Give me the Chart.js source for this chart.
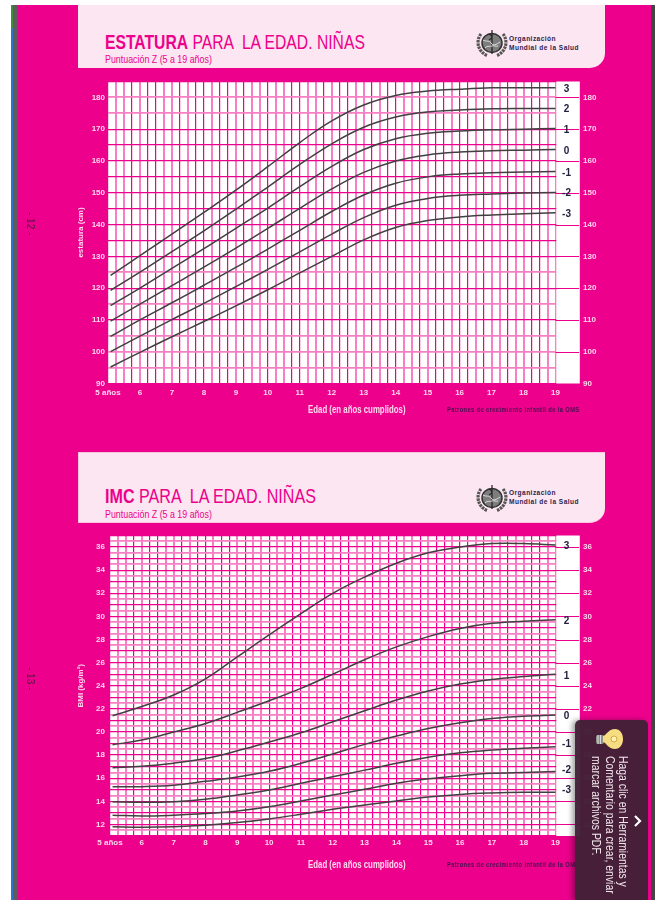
<!DOCTYPE html>
<html lang="es">
<head>
<meta charset="utf-8">
<title>Estatura e IMC para la edad. Niñas</title>
<script src="https://cdn.jsdelivr.net/npm/chart.js@4"></script>
<style>
html,body{margin:0;padding:0;background:#fff;width:662px;height:900px;overflow:hidden}
body{position:relative;font-family:"Liberation Sans",sans-serif}
.abs{position:absolute}
#page{left:17.5px;top:5px;width:633px;height:895px;background:#EC008C}
#stripG{left:11px;top:5px;width:2px;height:23px;background:#3f8f3a}
#stripB{left:11px;top:28px;width:2px;height:872px;background:#2f74c8}
#stripL{left:13px;top:5px;width:4.5px;height:895px;background:#5c5c5c}
#stripR{left:650.5px;top:5px;width:4.5px;height:895px;background:#444}
.panel{left:78px;width:527px;background:#FCE6F1;border-bottom-right-radius:15px;box-sizing:border-box}
#p1{top:5px;height:63px}
#p2{top:451.5px;height:71px;border:1px solid #F9C6E1;border-right:0}
.title{left:105px;font-size:20.6px;line-height:20px;color:#EC008C;white-space:pre;transform:scaleX(.762);transform-origin:0 0}
.sub{left:105px;font-size:10.6px;line-height:12px;color:#EC008C;white-space:pre;transform:scaleX(.836);transform-origin:0 0}
.who{left:509px;font-size:7.6px;line-height:9.2px;font-weight:bold;color:#2c2550;white-space:pre;letter-spacing:.55px;transform:scaleX(.86);transform-origin:0 0}
.xt{font-size:10.6px;line-height:12px;font-weight:bold;color:#FFD8EC;white-space:pre;left:308px;transform:scaleX(.74);transform-origin:0 0}
.pat{font-size:6.4px;line-height:8px;font-weight:bold;color:#4a1050;white-space:pre;left:447px;letter-spacing:.42px;transform:scaleX(.9);transform-origin:0 0}
.side{left:24px;font-size:10px;line-height:12px;color:#4a1a3a;writing-mode:vertical-rl;white-space:pre}
canvas{position:absolute;left:0}
#c1{top:70px}
#c2{top:525px}
#tip{left:575px;top:719.5px;width:73px;height:181px;background:rgba(64,32,54,.965);border-radius:5px 5px 0 0;box-shadow:-3px 0 5px rgba(0,0,0,.35)}
#tipT{left:589px;top:756px;height:172px;overflow:hidden;writing-mode:vertical-rl;font-size:12.4px;line-height:13.4px;color:#f1e6ec;white-space:pre;transform:scaleY(.84);transform-origin:0 0}
</style>
</head>
<body>
<div class="abs" id="page"></div>
<div class="abs" id="stripG"></div><div class="abs" id="stripB"></div><div class="abs" id="stripL"></div><div class="abs" id="stripR"></div>

<div class="abs panel" id="p1"></div>
<div class="abs panel" id="p2"></div>

<div class="abs title" style="top:32px"><b>ESTATURA</b> PARA  LA EDAD. NIÑAS</div>
<div class="abs sub" style="top:53px">Puntuación Z (5 a 19 años)</div>
<div class="abs title" style="top:486px;transform:scaleX(.782)"><b>IMC</b> PARA  LA EDAD. NIÑAS</div>
<div class="abs sub" style="top:508px">Puntuación Z (5 a 19 años)</div>

<svg class="abs" style="left:476px;top:29px" width="32" height="28" viewBox="0 0 32 28"><g fill="none" stroke="#666" stroke-width="1.5"><ellipse cx="16" cy="14" rx="10" ry="9.500" fill="#7d7d7d" stroke="#333"/><path d="M5 5C0 11 1 22 11 26.500M27 5c5 6 4 17-6 21.500" stroke-width="3.200" stroke-dasharray="2.500 .8" stroke="#555"/><path d="M16 1v24M13 5c4 2 4 4 0 6" stroke="#222" stroke-width="1.200"/><path d="M7 11c3 2 6 0 8 3s5 2 9-1M9 19c3-3 5-1 7-2s4 1 6 0" stroke="#e0e0e0" stroke-width="1"/></g></svg>
<svg class="abs" style="left:476px;top:483.5px" width="32" height="28" viewBox="0 0 32 28"><g fill="none" stroke="#666" stroke-width="1.5"><ellipse cx="16" cy="14" rx="10" ry="9.500" fill="#7d7d7d" stroke="#333"/><path d="M5 5C0 11 1 22 11 26.500M27 5c5 6 4 17-6 21.500" stroke-width="3.200" stroke-dasharray="2.500 .8" stroke="#555"/><path d="M16 1v24M13 5c4 2 4 4 0 6" stroke="#222" stroke-width="1.200"/><path d="M7 11c3 2 6 0 8 3s5 2 9-1M9 19c3-3 5-1 7-2s4 1 6 0" stroke="#e0e0e0" stroke-width="1"/></g></svg>
<div class="abs who" style="top:33.5px">Organización
Mundial de la Salud</div>
<div class="abs who" style="top:488px">Organización
Mundial de la Salud</div>

<canvas id="c1" width="662" height="350"></canvas>
<canvas id="c2" width="662" height="350"></canvas>

<div class="abs xt" style="top:403px">Edad (en años cumplidos)</div>
<div class="abs pat" style="top:406px">Patrones de crecimiento infantil de la OMS</div>
<div class="abs xt" style="top:858px">Edad (en años cumplidos)</div>
<div class="abs pat" style="top:861px">Patrones de crecimiento infantil de la OMS</div>
<div class="abs side" style="top:212px">- 12 -</div>
<div class="abs side" style="top:667px">- 13 -</div>

<div class="abs" id="tip"></div>
<svg class="abs" style="left:595px;top:727px" width="30" height="24" viewBox="0 0 30 24"><rect x="1" y="8" width="8" height="9" rx="2" fill="#8f8f88"/><path d="M3 8v9M5.500 8v9" stroke="#ddd" stroke-width="1"/><path d="M8 9C12 8 13 2 20 2c5 0 8 4.500 8 10s-3 10-8 10c-7 0-8-6-12-7z" fill="#F6DD82"/><circle cx="19" cy="12" r="3" fill="#fff3b8" stroke="#d9a93a"/></svg>
<svg class="abs" style="left:632px;top:814px" width="12" height="14" viewBox="0 0 12 14"><path d="M3 2l5 5-5 5" fill="none" stroke="#fff" stroke-width="2.200"/></svg>
<div class="abs" id="tipT">Haga clic en Herramientas y
Comentario para crear, enviar
marcar archivos PDF.</div>

<script>
// ---- shared categories ----
const ages = [5.08, 6, 7, 8, 9, 10, 11, 12, 13, 14, 15, 16, 17, 18, 19];
const zLabels = ['3', '2', '1', '0', '-1', '-2', '-3'];

// ---- estatura (cm) ----
const heightZ3  = [124.0, 130.2, 137.0, 143.8, 150.8, 158.2, 165.8, 172.6, 177.6, 180.6, 182.0, 182.6, 183.0, 183.0, 183.0];
const heightZ2  = [119.3, 125.0, 131.5, 138.0, 144.8, 151.8, 158.9, 165.4, 170.6, 173.8, 175.4, 176.0, 176.4, 176.5, 176.5];
const heightZ1  = [114.5, 120.0, 126.2, 132.4, 138.8, 145.2, 151.9, 158.3, 163.6, 167.0, 168.7, 169.4, 169.8, 170.0, 170.2];
const heightZ0  = [109.6, 115.0, 120.8, 126.6, 132.6, 138.8, 145.1, 151.2, 156.4, 160.0, 161.9, 162.8, 163.2, 163.4, 163.6];
const heightZm1 = [104.8, 110.0, 115.4, 120.9, 126.5, 132.3, 138.2, 144.1, 149.3, 153.0, 155.0, 155.9, 156.3, 156.5, 156.7];
const heightZm2 = [100.0, 104.9, 110.1, 115.2, 120.5, 125.9, 131.4, 137.0, 142.2, 146.1, 148.2, 149.2, 149.6, 149.9, 150.1];
const heightZm3 = [95.2, 99.8, 104.7, 109.5, 114.4, 119.5, 124.8, 130.0, 135.2, 139.1, 141.3, 142.4, 143.0, 143.4, 143.7];

// ---- IMC (kg/m2) ----
const bmiZ3  = [21.4, 22.2, 23.2, 24.6, 26.5, 28.4, 30.24, 32.0, 33.4, 34.6, 35.5, 36.0, 36.3, 36.3, 36.17];
const bmiZ2  = [18.9, 19.3, 20.0, 20.74, 21.7, 22.7, 23.77, 25.0, 26.25, 27.36, 28.25, 28.95, 29.4, 29.58, 29.7];
const bmiZ1  = [16.9, 17.03, 17.3, 17.7, 18.37, 19.13, 19.93, 20.88, 21.83, 22.76, 23.55, 24.15, 24.55, 24.8, 25.0];
const bmiZ0  = [15.27, 15.27, 15.39, 15.73, 16.1, 16.6, 17.29, 18.1, 18.93, 19.65, 20.3, 20.8, 21.17, 21.37, 21.46];
const bmiZm1 = [13.97, 13.92, 13.97, 14.18, 14.55, 14.98, 15.56, 16.13, 16.7, 17.29, 17.82, 18.2, 18.44, 18.6, 18.72];
const bmiZm2 = [12.8, 12.73, 12.8, 12.94, 13.17, 13.54, 14.03, 14.55, 15.04, 15.56, 15.95, 16.22, 16.42, 16.5, 16.57];
const bmiZm3 = [11.8, 11.76, 11.8, 11.93, 12.16, 12.48, 12.88, 13.31, 13.68, 14.03, 14.37, 14.6, 14.72, 14.78, 14.78];

const heightTitle = 'estatura (cm)';
const bmiTitle = 'BMI (kg/m²)';

// ---- style ----
const PINK = '#EC008C', PALE = '#F77FC3', TICK = '#FFD8EC', INK = '#222040';
const FAM = '"Liberation Sans",sans-serif';
const verticalPattern = 'DPPDPDDPPDPDDPDDPDPPDPPDDPPDPD';
const paleHeightLines = [180, 175, 125, 115, 105, 100, 95];

function toPoints(values) { return values.map((v, i) => ({ x: ages[i], y: v })); }

const guide = {
  id: 'guide',
  beforeDraw(chart) {
    const a = chart.chartArea, c = chart.ctx;
    c.save(); c.fillStyle = '#fff'; c.fillRect(a.left, a.top, a.right - a.left, a.bottom - a.top); c.restore();
  },
  beforeDatasetsDraw(chart, args, opts) {
    const a = chart.chartArea, c = chart.ctx, xs = chart.scales.x, ys = chart.scales.y;
    const x19 = xs.getPixelForValue(19);
    c.save();
    c.fillStyle = '#fff';
    c.fillRect(x19 + 0.8, a.top, a.right - x19, a.bottom - a.top);
    c.strokeStyle = PINK; c.lineWidth = 1;
    ys.ticks.forEach(t => {
      if (t.value % opts.labelStep === 0) {
        const y = Math.round(ys.getPixelForValue(t.value)) + 0.5;
        c.beginPath(); c.moveTo(x19, y); c.lineTo(a.right, y); c.stroke();
      }
    });
    c.restore();
  },
  afterDatasetsDraw(chart, args, opts) {
    const c = chart.ctx, xs = chart.scales.x;
    c.save();
    c.fillStyle = INK;
    c.font = 'bold 10px ' + FAM;
    c.textAlign = 'center'; c.textBaseline = 'middle';
    chart.data.datasets.forEach((d, i) => {
      const pts = chart.getDatasetMeta(i).data;
      c.fillText(d.label, xs.getPixelForValue(19) + 11, pts[pts.length - 1].y + opts.labelShift[i]);
    });
    c.restore();
  }
};

function build(id, series, o) {
  return new Chart(document.getElementById(id), {
    type: 'line',
    data: {
      datasets: series.map((s, i) => ({
        label: zLabels[i], data: toPoints(s), borderColor: '#404040', borderWidth: 1.5,
        pointRadius: 0, tension: 0.4, fill: false
      }))
    },
    plugins: [guide],
    options: {
      responsive: false, animation: false, devicePixelRatio: 1,
      layout: { padding: { top: o.top, left: 0, right: 0, bottom: 0 } },
      plugins: { legend: { display: false }, tooltip: { enabled: false }, title: { display: false },
        guide: { labelStep: o.labelStep, labelShift: o.labelShift } },
      scales: {
        x: {
          type: 'linear', min: 5, max: 5 + (579 - o.left) / ((555.5 - o.left) / 14),
          afterBuildTicks(s) { s.ticks = []; for (let q = 0; q <= 56; q++) s.ticks.push({ value: 5 + q / 4 }); },
          afterFit(s) { s.height = o.axisH; },
          border: { display: false },
          grid: {
            drawTicks: false,
            color: c => { const q = Math.round((c.tick.value - 5) * 4); return verticalPattern[q % verticalPattern.length] === 'P' ? PALE : PINK; },
            lineWidth: c => { const q = Math.round((c.tick.value - 5) * 4); return verticalPattern[q % verticalPattern.length] === 'P' ? 2 : 1.2; }
          },
          ticks: {
            autoSkip: false, maxRotation: 0, minRotation: 0, padding: o.xPad, color: TICK,
            font: { family: FAM, size: 8, weight: 'bold' },
            callback: v => Number.isInteger(v) ? (v === 5 ? '5 años' : String(v)) : ''
          }
        },
        y: {
          position: 'left', min: o.min, max: o.max,
          afterBuildTicks(s) { s.ticks = []; for (let v = o.min; v <= o.max; v += o.gridStep) s.ticks.push({ value: v }); },
          afterFit(s) { s.width = o.left; },
          border: { display: false },
          title: { display: true, text: o.title, color: TICK, padding: { top: 76, bottom: 0 },
            font: { family: FAM, size: 8, weight: 'bold' } },
          grid: {
            drawTicks: false,
            color: c => o.isPale(c.tick.value) ? PALE : PINK,
            lineWidth: c => o.isPale(c.tick.value) ? 1.8 : 1.2
          },
          ticks: {
            autoSkip: false, padding: o.yPad, color: TICK,
            font: { family: FAM, size: 8, weight: 'bold' },
            callback: v => v % o.labelStep === 0 ? String(v) : ''
          }
        },
        yr: {
          position: 'right', min: o.min, max: o.max,
          afterBuildTicks(s) { s.ticks = []; for (let v = o.min; v <= o.max; v += o.gridStep) s.ticks.push({ value: v }); },
          afterFit(s) { s.width = 662 - 579; },
          border: { display: false },
          grid: { display: false, drawTicks: false },
          ticks: {
            autoSkip: false, padding: 4, color: TICK,
            font: { family: FAM, size: 8, weight: 'bold' },
            callback: v => v % o.labelStep === 0 ? String(v) : ''
          }
        }
      }
    }
  });
}

build('c1', [heightZ3, heightZ2, heightZ1, heightZ0, heightZm1, heightZm2, heightZm3], {
  top: 11.5, left: 108, axisH: 36.5, xPad: 4, yPad: 3, min: 90, max: 185, gridStep: 5, labelStep: 10,
  title: heightTitle, isPale: v => paleHeightLines.includes(v),
  labelShift: [1.2, 1.2, 1.8, 1.8, 1.3, 1.3, 1.8]
});
build('c2', [bmiZ3, bmiZ2, bmiZ1, bmiZ0, bmiZm1, bmiZm2, bmiZm3], {
  top: 10.5, left: 110, axisH: 39, xPad: 2, yPad: 5, min: 11, max: 37, gridStep: 0.5, labelStep: 2,
  title: bmiTitle, isPale: v => !Number.isInteger(v),
  labelShift: [1.3, 1, 2, 1, -2.7, -1.7, -2.3]
});
</script>
</body>
</html>
